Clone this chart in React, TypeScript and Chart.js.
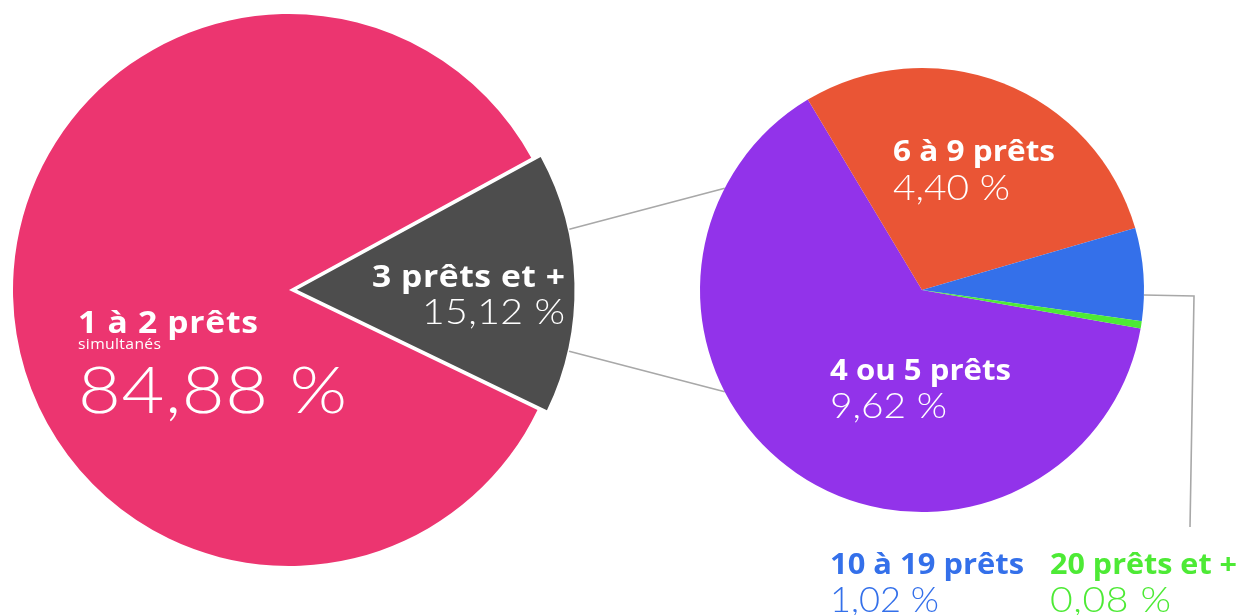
import React, { useEffect, useRef } from "react";
import { Chart, registerables } from "chart.js";

Chart.register(...registerables);

// ---- data ----
const mainLabels = ["1 à 2 prêts", "3 prêts et +"];
const mainValues = [84.88, 15.12];
const mainColors = ["#EC3570", "#4D4D4D"];
const mainSubtitles = ["simultanés", ""];

const detailLabels = ["4 ou 5 prêts", "6 à 9 prêts", "10 à 19 prêts", "20 prêts et +"];
const detailValues = [9.62, 4.4, 1.02, 0.08];
const detailColors = ["#9233EA", "#EA5535", "#3470EA", "#4DEA35"];

// ---- layout / style ----
const W = 1239;
const H = 615;
const TITLE_FONT = "'Open Sans', Lato, sans-serif";
const VALUE_FONT = "Lato, 'Open Sans', sans-serif";
const LINE_COLOR = "#A8A8A8";
const MAX_STRETCH = 1.12;

const fmt = (v: number) => v.toFixed(2).replace(".", ",") + " %";

type Item = {
  x: number;
  titleY: number;
  valueY: number;
  align: "left" | "right";
  titleSize: number;
  valueSize: number;
  titleW: number;
  valueW: number;
  titleColor: string;
  valueColor: string;
  subY?: number;
  subSize?: number;
  subW?: number;
};

const mainItems: Item[] = [
  { x: 78, titleY: 333, valueY: 413, align: "left", titleSize: 30, valueSize: 66, titleW: 180, valueW: 269, titleColor: "#fff", valueColor: "#fff", subY: 349, subSize: 14, subW: 83 },
  { x: 565, titleY: 287, valueY: 324, align: "right", titleSize: 30, valueSize: 35, titleW: 193, valueW: 143, titleColor: "#fff", valueColor: "#fff" },
];

const detailItems: Item[] = [
  { x: 830, titleY: 380, valueY: 418, align: "left", titleSize: 29, valueSize: 35, titleW: 181, valueW: 117, titleColor: "#fff", valueColor: "#fff" },
  { x: 893, titleY: 161, valueY: 200, align: "left", titleSize: 29, valueSize: 35, titleW: 162, valueW: 117, titleColor: "#fff", valueColor: "#fff" },
  { x: 830, titleY: 574, valueY: 612, align: "left", titleSize: 29, valueSize: 35, titleW: 194, valueW: 109, titleColor: "#3470EA", valueColor: "#3470EA" },
  { x: 1050, titleY: 574, valueY: 612, align: "left", titleSize: 29, valueSize: 35, titleW: 187, valueW: 121, titleColor: "#4DEA35", valueColor: "#4DEA35" },
];

// draws text fitted to a given width (reference typeface is wider than the installed ones):
// glyphs are widened a little, and the rest is made up with letter spacing
function fitText(ctx: CanvasRenderingContext2D, text: string, x: number, y: number, width: number, align: "left" | "right") {
  const chars = [...text];
  const widths = chars.map((c) => ctx.measureText(c).width);
  const natural = widths.reduce((a, b) => a + b, 0);
  const sx = Math.max(1, Math.min(MAX_STRETCH, width / natural));
  const gap = chars.length > 1 ? Math.max(0, (width - natural * sx) / (chars.length - 1)) : 0;
  const total = natural * sx + gap * (chars.length - 1);
  let cx = align === "right" ? x - total : x;
  ctx.textAlign = "left";
  chars.forEach((c, i) => {
    ctx.save();
    ctx.translate(cx, y);
    ctx.scale(sx, 1);
    ctx.fillText(c, 0, 0);
    ctx.restore();
    cx += widths[i] * sx + gap;
  });
}

function labelPlugin(items: Item[], subtitles: string[]) {
  return {
    id: "sliceLabels",
    afterDatasetsDraw(chart: any) {
      const ctx = chart.ctx as CanvasRenderingContext2D;
      const labels = chart.data.labels as string[];
      const values = chart.data.datasets[0].data as number[];
      items.forEach((it, i) => {
        ctx.save();
        ctx.textBaseline = "alphabetic";
        ctx.fillStyle = it.titleColor;
        ctx.font = `700 ${it.titleSize}px ${TITLE_FONT}`;
        fitText(ctx, labels[i], it.x, it.titleY, it.titleW, it.align);
        if (subtitles[i] && it.subY) {
          ctx.font = `400 ${it.subSize}px ${TITLE_FONT}`;
          fitText(ctx, subtitles[i], it.x, it.subY, it.subW || 0, it.align);
        }
        ctx.fillStyle = it.valueColor;
        ctx.font = `300 ${it.valueSize}px ${VALUE_FONT}`;
        fitText(ctx, fmt(values[i]), it.x, it.valueY, it.valueW, it.align);
        ctx.restore();
      });
    },
  };
}

const deg = (d: number) => (d * Math.PI) / 180;

function connectorPlugin(getMain: () => Chart | null) {
  return {
    id: "connectors",
    beforeDatasetsDraw(chart: any) {
      const main = getMain();
      if (!main) return;
      const ctx = chart.ctx as CanvasRenderingContext2D;
      // exploded slice geometry of main pie
      const arc: any = main.getDatasetMeta(0).data[1];
      const off = (arc.options.offset || 0) / 4;
      const circ = arc.endAngle - arc.startAngle;
      const fix = 1 - Math.sin(Math.min(Math.PI, circ));
      const shift = off * (1 + fix);
      const mid = (arc.startAngle + arc.endAngle) / 2;
      const lcx = arc.x + Math.cos(mid) * shift;
      const lcy = arc.y + Math.sin(mid) * shift;
      const lr = arc.outerRadius + off * fix;
      // detail pie geometry
      const d: any = chart.getDatasetMeta(0).data[0];
      const rcx = d.x;
      const rcy = d.y;
      const rr = d.outerRadius;
      const pt = (cx: number, cy: number, r: number, a: number) => [cx + Math.cos(deg(a)) * r, cy + Math.sin(deg(a)) * r];

      ctx.save();
      ctx.strokeStyle = LINE_COLOR;
      ctx.lineWidth = 1.6;
      const pairs = [
        [-12.6, 207.3],
        [12.8, 152.7],
      ];
      pairs.forEach(([a, b]) => {
        const [x1, y1] = pt(lcx, lcy, lr, a);
        const [x2, y2] = pt(rcx, rcy, rr, b);
        ctx.beginPath();
        ctx.moveTo(x1, y1);
        ctx.lineTo(x2, y2);
        ctx.stroke();
      });
      // callout to the small slices
      const [sx, sy] = pt(rcx, rcy, rr, 1.3);
      ctx.beginPath();
      ctx.moveTo(sx, sy);
      ctx.lineTo(rcx + rr + 50, sy + 1);
      ctx.lineTo(rcx + rr + 46, 527);
      ctx.stroke();
      ctx.restore();
    },
  };
}

export default function App() {
  const leftRef = useRef<HTMLCanvasElement>(null);
  const rightRef = useRef<HTMLCanvasElement>(null);

  useEffect(() => {
    let main: Chart | null = null;
    main = new Chart(leftRef.current!, {
      type: "pie",
      data: {
        labels: mainLabels,
        datasets: [
          {
            data: mainValues,
            backgroundColor: mainColors,
            borderWidth: 0,
            offset: [0, 32],
          },
        ],
      },
      options: {
        responsive: false,
        animation: false,
        rotation: 115.8,
        radius: 276,
        layout: { padding: { left: 0, top: 0, right: W - 578, bottom: H - 580 } },
        plugins: { legend: { display: false }, tooltip: { enabled: false } },
      },
      plugins: [labelPlugin(mainItems, mainSubtitles)],
    });

    const detail = new Chart(rightRef.current!, {
      type: "pie",
      data: {
        labels: detailLabels,
        datasets: [
          {
            data: detailValues,
            backgroundColor: detailColors,
            borderWidth: 0,
          },
        ],
      },
      options: {
        responsive: false,
        animation: false,
        rotation: 100,
        radius: 222,
        layout: { padding: { left: 605, top: 0, right: 0, bottom: H - 580 } },
        plugins: { legend: { display: false }, tooltip: { enabled: false } },
      },
      plugins: [connectorPlugin(() => main), labelPlugin(detailItems, ["", "", "", ""])],
    });

    return () => {
      detail.destroy();
      main?.destroy();
      main = null;
    };
  }, []);

  return (
    <div style={{ position: "absolute", left: 0, top: 0, width: W, height: H, background: "#fff", overflow: "hidden" }}>
      <canvas ref={leftRef} width={W} height={H} style={{ position: "absolute", left: 0, top: 0 }} />
      <canvas ref={rightRef} width={W} height={H} style={{ position: "absolute", left: 0, top: 0 }} />
    </div>
  );
}
